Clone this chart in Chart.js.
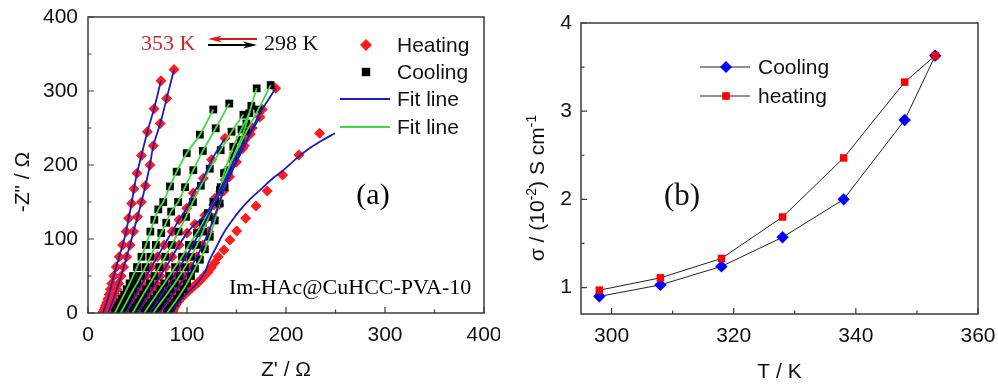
<!DOCTYPE html>
<html>
<head>
<meta charset="utf-8">
<script src="https://cdn.jsdelivr.net/npm/chart.js@4.4.1/dist/chart.umd.min.js"></script>
<style>
  html, body { margin: 0; padding: 0; background: #fff; }
  #wrap { position: relative; width: 998px; height: 385px; overflow: hidden; background: #fff; }
  #chartA { position: absolute; left: 0; top: 0; }
  #chartB { position: absolute; left: 500px; top: 0; }
</style>
</head>
<body>
<div id="wrap">
  <canvas id="chartA" width="500" height="385"></canvas>
  <canvas id="chartB" width="498" height="385"></canvas>
</div>
<script>
// ---- panel (a) : Nyquist plots, [Z', -Z''] in ohm ----
const zTicks = [0, 100, 200, 300, 400];

const heating1 = [[15,0],[15.6,2],[16.2,4],[17,7],[17.8,10],[18.8,14],[20,19],[21.3,25],[22.6,32],[24,40],[26,50],[28.5,62],[31.5,76],[35,92],[38.5,110],[41,128],[44,148],[46.5,168],[49.5,189],[54,213],[60,245],[66.7,276],[73.7,314]];
const heating2 = [[20,0],[20.7,2],[21.4,4],[22.3,7],[23.2,10],[24.4,14],[25.8,19],[27.3,25],[29,32],[31,40],[33.5,50],[36,62],[39,76],[42.5,92],[46,110],[50,130],[54,150],[58,172],[62.6,200],[66,226],[73,256],[79.5,290],[86.9,329]];
const heating3 = [[38,0],[38.8,2],[39.6,4],[40.8,7],[42,10],[43.7,14],[45.8,19],[48.3,25],[51.3,32],[54.8,40],[59,50],[64,62],[70,76],[77,92],[85,110],[92,126],[99.7,141.5],[106.4,162],[116.5,182],[124.9,207],[138.4,236]];
const heating4 = [[50,0],[50.8,2],[51.7,4],[53,7],[54.4,10],[56.2,14],[58.5,19],[61.3,25],[64.6,32],[68.4,40],[73,50],[78.5,62],[85,76],[92,92],[100,108],[108,120],[118.2,132],[128.3,155],[138.4,180],[146.8,204.5],[158.6,234]];
const heating5 = [[62,0],[63,2],[64,4],[65.5,7],[67,10],[69,14],[71.6,19],[74.7,25],[78.3,32],[82.3,40],[87,50],[92.5,62],[99,76],[106,92],[113,110],[120,128],[127,146],[134,164],[141,183],[149,204],[156,222],[164,242],[173.7,265]];
const heating6 = [[72,0],[73,2],[74,4],[75.6,7],[77.2,10],[79.4,14],[82.2,19],[85.5,25],[89.3,32],[93.5,40],[98.5,50],[104,62],[110,76],[116,92],[122,110],[127,128],[132,146],[137,165],[143,184],[150,204],[158,226],[166,250],[176,275],[189.6,303.6]];
const heating7 = [[85,0],[85.6,2],[86.3,4],[87.2,7],[88.3,10],[89.7,13],[91.3,16],[93.2,19],[95.3,22],[97.6,25],[100,28],[102.6,31],[105.3,34],[108,37.5],[111,41],[114,45],[117.5,50],[121,55],[124.5,61],[128,68],[131.6,76],[137.4,85],[143.4,98.6],[150.2,110.8],[159.3,128],[169.7,144.6],[181,165],[196.6,186.5],[213,213.5],[234,243]];
const heatingFit7 = [[85.5,0],[88,8],[92,15],[98,24],[105,33],[112,43],[118,55],[123,72],[130,90],[137,108],[145,124],[153.5,139],[163,153],[173.7,166],[185,180],[197.3,193],[209,207],[221,220],[235,232],[249.5,243]];

const cooling1 = [[27,0],[27.8,2],[28.6,4],[29.7,7],[30.8,10],[32.3,14],[34.2,19],[36.5,25],[39,32],[42,40],[45.5,50],[49.5,62],[54,76],[58.5,92],[63,110],[67,126],[71,140],[76,150],[82.8,171],[89.6,191],[99.7,216],[113,241],[126.6,275]];
const cooling2 = [[33,0],[33.8,2],[34.6,4],[35.8,7],[37,10],[38.6,14],[40.6,19],[43,25],[46,32],[49.5,40],[53.5,50],[58,62],[63,76],[68.5,92],[74,108],[79,122],[84,137],[91,150],[98,170],[106.4,193],[116,219],[129,249.6],[142.7,283]];
const cooling3 = [[45,0],[45.8,2],[46.7,4],[48,7],[49.3,10],[51,14],[53.2,19],[55.8,25],[59,32],[62.6,40],[67,50],[72,62],[78,76],[84.5,92],[91.5,110],[99,130],[106,150],[114,172],[123,195],[134,220],[145,245],[157,268]];
const cooling4 = [[57,0],[57.9,2],[58.8,4],[60.3,7],[61.8,10],[63.8,14],[66.4,19],[69.5,25],[73,32],[77,40],[82,50],[88,62],[95,76],[102,92],[110,108],[116,122],[121,135],[126.6,150],[133.3,166],[137.4,189],[146.8,224.7],[155,248],[163,270]];
const cooling5 = [[66,0],[67,2],[68,4],[69.6,7],[71.2,10],[73.4,14],[76.2,19],[79.5,25],[83.3,32],[87.5,40],[92.5,50],[98,62],[104,76],[110,92],[116,110],[122,130],[128,150],[134,170],[140,190],[147,212],[154,234],[160,256],[165,280],[170.4,303.6]];
const cooling6 = [[80,0],[81,2],[82,4],[83.6,7],[85.2,10],[87.4,14],[90,19],[93,25],[96.5,32],[100,40],[104,50],[108,60],[113,72],[118,86],[123,103],[128,125],[133,148],[138,170],[142,193],[150,218],[160,245],[172,275],[184.5,308]];

// ---- panel (b) : conductivity vs temperature ----
const temps = [298, 308, 318, 328, 338, 348, 353];
const sigmaCooling = [0.90, 1.03, 1.24, 1.57, 2.00, 2.90, 3.63];
const sigmaHeating = [0.97, 1.11, 1.33, 1.80, 2.47, 3.33, 3.63];
const tTicks = [300, 320, 340, 360];
const sigmaTicks = [1, 2, 3, 4];

const SANS = '"Liberation Sans", Arial, sans-serif';
const SERIF = '"Liberation Serif", "Times New Roman", serif';
const RED = '#ff1c1c', BLUE = '#1d1db8', GREEN = '#3ddc3d';

const pts = arr => arr.map(p => ({ x: p[0], y: p[1] }));

const heatingCurves = [heating1, heating2, heating3, heating4, heating5, heating6, heating7];
const coolingCurves = [cooling1, cooling2, cooling3, cooling4, cooling5, cooling6];

const dsA = [];
heatingCurves.forEach((c, i) => {
  dsA.push({ label: 'Fit line', data: pts(i === 6 ? heatingFit7 : c), showLine: true,
    borderColor: BLUE, borderWidth: 1.8, pointRadius: 0, tension: 0.4, order: 0 });
  dsA.push({ label: 'Heating', data: pts(c), showLine: false, pointStyle: 'rectRot',
    pointRadius: 5.5, backgroundColor: RED, borderWidth: 0, order: 2 });
});
coolingCurves.forEach(c => {
  dsA.push({ label: 'Fit line', data: pts(c), showLine: true,
    borderColor: GREEN, borderWidth: 1.8, pointRadius: 0, tension: 0.4, order: 0 });
  dsA.push({ label: 'Cooling', data: pts(c), showLine: false, pointStyle: 'rect',
    pointRadius: 5.5, backgroundColor: '#000', borderWidth: 0, order: 1 });
});

function diamond(ctx, x, y, r, color) {
  ctx.fillStyle = color;
  ctx.beginPath();
  ctx.moveTo(x, y - r); ctx.lineTo(x + r, y); ctx.lineTo(x, y + r); ctx.lineTo(x - r, y);
  ctx.closePath(); ctx.fill();
}
function square(ctx, x, y, h, color) {
  ctx.fillStyle = color;
  ctx.fillRect(x - h, y - h, 2 * h, 2 * h);
}
function arrow(ctx, x1, x2, y, color) {
  const d = x2 > x1 ? 1 : -1;
  ctx.strokeStyle = color; ctx.fillStyle = color; ctx.lineWidth = 2;
  ctx.beginPath(); ctx.moveTo(x1, y); ctx.lineTo(x2 - d * 6, y); ctx.stroke();
  ctx.beginPath();
  ctx.moveTo(x2, y); ctx.lineTo(x2 - d * 14, y - 3.5); ctx.lineTo(x2 - d * 10, y); ctx.lineTo(x2 - d * 14, y + 3.5);
  ctx.closePath(); ctx.fill();
}

// frame + inward ticks (major and minor)
function frame(chart, xt, yt, majorLen, minorLen) {
  const ctx = chart.ctx, a = chart.chartArea, xs = chart.scales.x, ys = chart.scales.y;
  ctx.strokeStyle = '#3c3c3c'; ctx.lineWidth = 1.5;
  ctx.strokeRect(a.left, a.top, a.right - a.left, a.bottom - a.top);
  ctx.lineWidth = 1.2;
  const xsAll = [], ysAll = [];
  xt.forEach((v, i) => { xsAll.push([v, majorLen]); if (i < xt.length - 1) xsAll.push([(v + xt[i + 1]) / 2, minorLen]); });
  yt.forEach((v, i) => { ysAll.push([v, majorLen]); if (i < yt.length - 1) ysAll.push([(v + yt[i + 1]) / 2, minorLen]); });
  if (yt[0] - (yt[1] - yt[0]) / 2 > ys.min) ysAll.push([yt[0] - (yt[1] - yt[0]) / 2, minorLen]);
  if (xt[0] - (xt[1] - xt[0]) / 2 > xs.min) xsAll.push([xt[0] - (xt[1] - xt[0]) / 2, minorLen]);
  ctx.beginPath();
  xsAll.forEach(([v, l]) => { const px = xs.getPixelForValue(v); ctx.moveTo(px, a.bottom); ctx.lineTo(px, a.bottom - l); });
  ysAll.forEach(([v, l]) => { const py = ys.getPixelForValue(v); ctx.moveTo(a.left, py); ctx.lineTo(a.left + l, py); });
  ctx.stroke();
}

const decorA = {
  id: 'decorA',
  afterDraw(chart) {
    const ctx = chart.ctx, a = chart.chartArea;
    ctx.save();
    frame(chart, zTicks, zTicks, 6, 3.5);
    ctx.fillStyle = '#111';
    ctx.textBaseline = 'middle';
    // axis titles
    ctx.font = '21px ' + SANS; ctx.textAlign = 'center';
    ctx.fillText("Z' / \u03A9", (a.left + a.right) / 2, 370);
    ctx.save(); ctx.translate(23, 182); ctx.rotate(-Math.PI / 2);
    ctx.fillText('-Z" / \u03A9', 0, 0); ctx.restore();
    // legend
    diamond(ctx, 366, 45, 6, RED);
    square(ctx, 366, 72, 4.2, '#000');
    ctx.strokeStyle = BLUE; ctx.lineWidth = 2;
    ctx.beginPath(); ctx.moveTo(340, 99); ctx.lineTo(390, 99); ctx.stroke();
    ctx.strokeStyle = GREEN;
    ctx.beginPath(); ctx.moveTo(340, 127); ctx.lineTo(390, 127); ctx.stroke();
    ctx.fillStyle = '#111'; ctx.textAlign = 'left'; ctx.font = '21px ' + SANS;
    ctx.fillText('Heating', 397, 46);
    ctx.fillText('Cooling', 397, 73);
    ctx.fillText('Fit line', 397, 100);
    ctx.fillText('Fit line', 397, 128);
    // temperature direction
    ctx.font = '22px ' + SERIF;
    ctx.fillStyle = '#cc2a2a'; ctx.fillText('353 K', 141, 44);
    ctx.fillStyle = '#111'; ctx.fillText('298 K', 264, 44);
    arrow(ctx, 257, 208, 39, '#e01818');
    arrow(ctx, 208, 257, 45, '#000');
    // labels
    ctx.font = '30px ' + SERIF; ctx.textAlign = 'center';
    ctx.fillText('(a)', 373, 196);
    ctx.font = '22px ' + SERIF; ctx.textAlign = 'left';
    ctx.fillText('Im-HAc@CuHCC-PVA-10', 229, 288);
    ctx.restore();
  }
};

const decorB = {
  id: 'decorB',
  afterDraw(chart) {
    const ctx = chart.ctx, a = chart.chartArea;
    ctx.save();
    frame(chart, tTicks, sigmaTicks, 6, 3.5);
    ctx.fillStyle = '#111';
    ctx.textBaseline = 'middle'; ctx.textAlign = 'center';
    ctx.font = '21px ' + SANS;
    ctx.fillText('T / K', (a.left + a.right) / 2, 372);
    // y title with superscripts
    const segs = [['\u03C3 / (10', 21, 0], ['-2', 14, -8], [') S cm', 21, 0], ['-1', 14, -8]];
    ctx.save(); ctx.translate(36, 188); ctx.rotate(-Math.PI / 2);
    ctx.textAlign = 'left'; ctx.textBaseline = 'alphabetic';
    let total = 0;
    segs.forEach(s => { ctx.font = s[1] + 'px ' + SANS; total += ctx.measureText(s[0]).width; });
    let x = -total / 2;
    segs.forEach(s => { ctx.font = s[1] + 'px ' + SANS; ctx.fillText(s[0], x, 7.5 + s[2]); x += ctx.measureText(s[0]).width; });
    ctx.restore();
    // legend
    ctx.strokeStyle = '#222'; ctx.lineWidth = 1;
    ctx.beginPath(); ctx.moveTo(200, 67); ctx.lineTo(250, 67); ctx.moveTo(200, 96); ctx.lineTo(250, 96); ctx.stroke();
    diamond(ctx, 226, 67, 6, '#0000ff');
    square(ctx, 226, 96, 3.8, '#ff0000');
    ctx.fillStyle = '#111'; ctx.textAlign = 'left'; ctx.textBaseline = 'middle';
    ctx.font = '21px ' + SANS;
    ctx.fillText('Cooling', 258, 68);
    ctx.fillText('heating', 258, 97);
    ctx.font = '31px ' + SERIF; ctx.textAlign = 'center';
    ctx.fillText('(b)', 182, 197);
    ctx.restore();
  }
};

function tickFont() { return { family: SANS, size: 21 }; }

new Chart(document.getElementById('chartA'), {
  type: 'scatter',
  data: { datasets: dsA },
  options: {
    responsive: false, animation: false, devicePixelRatio: 1,
    layout: { padding: { left: 0, top: 17, right: 16, bottom: 0 } },
    plugins: { legend: { display: false }, tooltip: { enabled: false } },
    scales: {
      x: {
        type: 'linear', min: 0, max: 400,
        afterBuildTicks: s => { s.ticks = zTicks.map(v => ({ value: v })); },
        afterFit: s => { s.height = 72; s.paddingLeft = 0; s.paddingRight = 0; },
        grid: { display: false, drawTicks: false }, border: { display: false },
        ticks: { font: tickFont(), color: '#111', padding: 10, maxRotation: 0, autoSkip: false }
      },
      y: {
        type: 'linear', min: 0, max: 400,
        afterBuildTicks: s => { s.ticks = zTicks.map(v => ({ value: v })); },
        afterFit: s => { s.width = 88; s.paddingTop = 0; s.paddingBottom = 0; },
        grid: { display: false, drawTicks: false }, border: { display: false },
        ticks: { font: tickFont(), color: '#111', padding: 10, autoSkip: false }
      }
    }
  },
  plugins: [decorA]
});

new Chart(document.getElementById('chartB'), {
  type: 'scatter',
  data: {
    datasets: [
      { label: 'heating', data: temps.map((t, i) => ({ x: t, y: sigmaHeating[i] })), showLine: true,
        borderColor: '#222', borderWidth: 1, pointStyle: 'rect', pointRadius: 5.3,
        pointBackgroundColor: '#ff0000', pointBorderWidth: 0, order: 0 },
      { label: 'Cooling', data: temps.map((t, i) => ({ x: t, y: sigmaCooling[i] })), showLine: true,
        borderColor: '#222', borderWidth: 1, pointStyle: 'rectRot', pointRadius: 6.2,
        pointBackgroundColor: '#0000ff', pointBorderWidth: 0, order: 1 }
    ]
  },
  options: {
    responsive: false, animation: false, devicePixelRatio: 1,
    layout: { padding: { left: 0, top: 23, right: 20, bottom: 0 } },
    plugins: { legend: { display: false }, tooltip: { enabled: false } },
    scales: {
      x: {
        type: 'linear', min: 295, max: 360,
        afterBuildTicks: s => { s.ticks = tTicks.map(v => ({ value: v })); },
        afterFit: s => { s.height = 71; s.paddingLeft = 0; s.paddingRight = 0; },
        grid: { display: false, drawTicks: false }, border: { display: false },
        ticks: { font: tickFont(), color: '#111', padding: 10, maxRotation: 0, autoSkip: false }
      },
      y: {
        type: 'linear', min: 0.7, max: 4,
        afterBuildTicks: s => { s.ticks = sigmaTicks.map(v => ({ value: v })); },
        afterFit: s => { s.width = 81; s.paddingTop = 0; s.paddingBottom = 0; },
        grid: { display: false, drawTicks: false }, border: { display: false },
        ticks: { font: tickFont(), color: '#111', padding: 9, autoSkip: false }
      }
    }
  },
  plugins: [decorB]
});
</script>
</body>
</html>
